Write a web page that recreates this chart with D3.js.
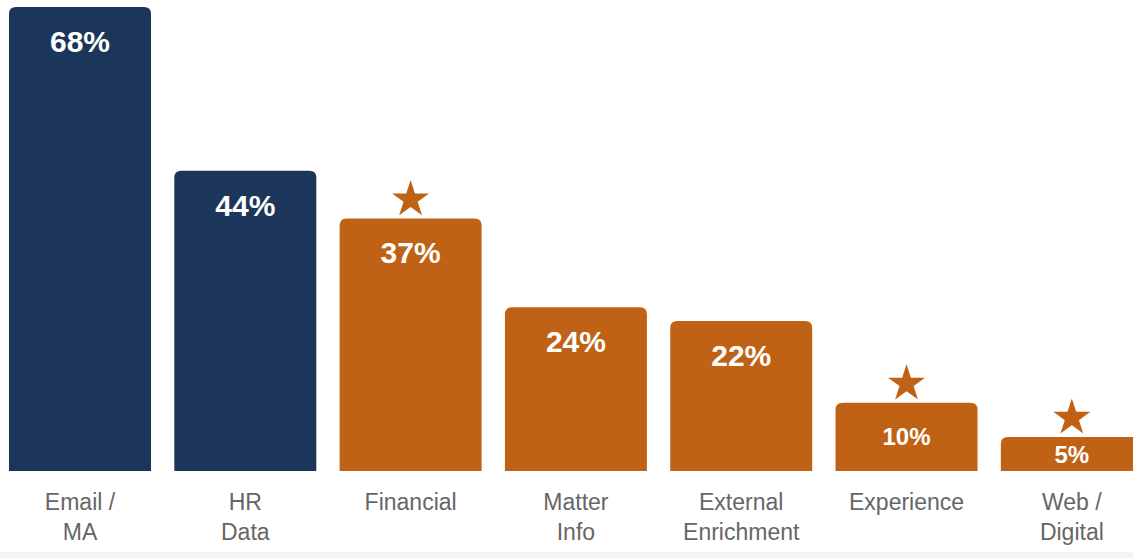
<!DOCTYPE html>
<html>
<head>
<meta charset="utf-8">
<script src="https://cdn.jsdelivr.net/npm/d3@7/dist/d3.min.js"></script>
<style>
  html, body { margin: 0; padding: 0; background: #ffffff; }
  svg { display: block; }
</style>
</head>
<body>
<script>
// Data sources in use, share of respondents
const categories = [["Email /", "MA"], ["HR", "Data"], ["Financial"], ["Matter", "Info"], ["External", "Enrichment"], ["Experience"], ["Web /", "Digital"]];
const values = [68, 44, 37, 24, 22, 10, 5];
const groups = ["core", "core", "new", "new", "new", "new", "new"];
const starred = [false, false, true, false, false, true, true];

const W = 1133, H = 558;
const colors = { core: "#1b365a", new: "#c06216" };

const svg = d3.select("body").append("svg")
  .attr("width", W).attr("height", H);

// faint strip along the bottom edge
svg.append("rect").attr("x", 0).attr("y", 552).attr("width", W).attr("height", 6)
  .attr("fill", "#f3f3f3");

const idx = d3.range(values.length);
const x = d3.scaleBand().domain(idx).range([-2.65, 1154.5])
  .paddingInner(0.141).paddingOuter(0.0705);
const y = d3.scaleLinear().domain([0, 68]).range([471, 7]);

// bar path with rounded top corners only
function topRounded(x0, y0, w, h, r) {
  r = Math.min(r, h, w / 2);
  return `M${x0},${y0 + h}V${y0 + r}Q${x0},${y0} ${x0 + r},${y0}H${x0 + w - r}Q${x0 + w},${y0} ${x0 + w},${y0 + r}V${y0 + h}Z`;
}

svg.append("g").selectAll("path").data(idx).join("path")
  .attr("d", i => topRounded(x(i), y(values[i]), x.bandwidth(), y(0) - y(values[i]), 7))
  .attr("fill", i => colors[groups[i]]);

// value labels inside the bars
svg.append("g").selectAll("text").data(idx).join("text")
  .attr("x", i => x(i) + x.bandwidth() / 2)
  .attr("y", i => {
    const h = y(0) - y(values[i]);
    return y(values[i]) + Math.min(34, h / 2);
  })
  .attr("dy", "0.36em")
  .attr("text-anchor", "middle")
  .attr("font-family", "Liberation Sans, Arial, sans-serif")
  .attr("font-weight", "bold")
  .attr("font-size", i => (y(0) - y(values[i]) < 100 ? 24 : 30))
  .attr("fill", "#ffffff")
  .text(i => values[i] + "%");

// stars marking highlighted sources
const star = d3.symbol().type(d3.symbolStar).size(425);
svg.append("g").selectAll("path").data(idx.filter(i => starred[i])).join("path")
  .attr("d", star)
  .attr("transform", i => `translate(${x(i) + x.bandwidth() / 2},${y(values[i]) - 19})`)
  .attr("fill", "#c06216");

// category labels
const lab = svg.append("g").selectAll("text").data(idx).join("text")
  .attr("text-anchor", "middle")
  .attr("font-family", "Liberation Sans, Arial, sans-serif")
  .attr("font-size", 23)
  .attr("fill", "#666666");
lab.selectAll("tspan").data(i => categories[i].map(t => ({ i, t }))).join("tspan")
  .attr("x", d => x(d.i) + x.bandwidth() / 2)
  .attr("y", (d, k) => 510 + k * 30)
  .text(d => d.t);
</script>
</body>
</html>
